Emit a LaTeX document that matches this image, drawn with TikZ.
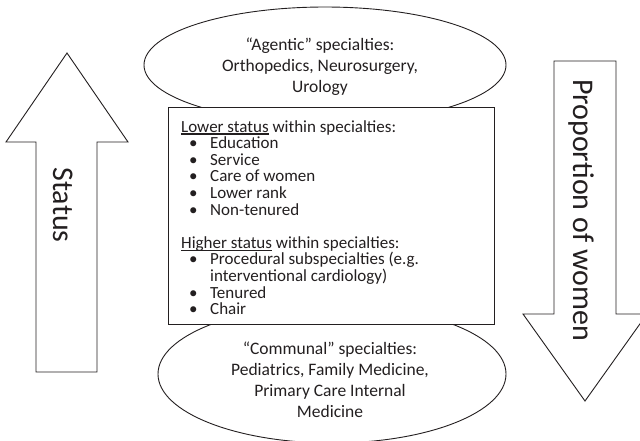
\documentclass[tikz,border=0pt]{standalone}
\usepackage{fontspec}
\setmainfont{Carlito}
\usetikzlibrary{shapes.geometric}
\definecolor{ink}{RGB}{35,31,32}
\newcommand{\spitem}[1]{\hspace*{8pt}\makebox[21pt][l]{•}#1}
% underline with a firmer rule than \underline gives
\newcommand{\heavyul}[1]{\setbox0\hbox{#1}\rlap{\rule[-2.6pt]{\wd0}{1.3pt}}\box0\relax}
\begin{document}
\begin{tikzpicture}[x=1pt,y=-1pt,
  outline/.style={draw=ink, line width=0.9pt},
  bigarrow/.style={outline, fill=white, line join=miter},
  oval/.style={outline, ellipse, inner sep=0pt},
  ovaltext/.style={align=center, font=\fontsize{17.5}{21}\selectfont, text=ink, inner sep=0pt},
  listtext/.style={align=left, font=\fontsize{17}{16.6}\selectfont, text=ink, inner sep=0pt},
  arrowlabel/.style={rotate=-90, font=\fontsize{30}{36}\selectfont, text=ink, inner sep=0pt}]
\clip (0,0) rectangle (640,440);

% status arrow pointing up
\draw[bigarrow] (36,372) -- (36,142) -- (6,142) -- (67,53) -- (128,142)
  -- (97,142) -- (97,372) -- cycle;
\node[arrowlabel] (status) at (63,205) {Status};

% proportion arrow pointing down
\draw[bigarrow] (554,61) -- (616,61) -- (616,314) -- (647,314) -- (585,401)
  -- (523,314) -- (554,314) -- cycle;
\node[arrowlabel] (women) at (581,210) {Proportion of women};

% specialty groups
\node[oval, minimum width=362pt, minimum height=116pt] (agentic) at (325,65) {};
\node[oval, minimum width=348pt, minimum height=138pt] (communal) at (332,374) {};
\node[ovaltext] (agentic text) at (320,67) {“Agentic” specialties:\\Orthopedics, Neurosurgery,\\Urology};
\node[ovaltext] (communal text) at (330,380) {“Communal” specialties:\\Pediatrics, Family Medicine,\\Primary Care Internal\\Medicine};

% status within specialties; the list is placed by the baseline of its last line
\node[outline, fill=white, minimum width=326pt, minimum height=217pt,
  inner sep=0pt, anchor=north west] (within) at (168,107) {};
\node[listtext, anchor=base west] (within list) at (181,314.6) {%
\heavyul{Lower status} within specialties:\\
\spitem{Education}\\
\spitem{Service}\\
\spitem{Care of women}\\
\spitem{Lower rank}\\
\spitem{Non-tenured}\\[16.6pt]
\heavyul{Higher status} within specialties:\\
\spitem{Procedural subspecialties (e.g.}\\
\hspace*{29pt}interventional cardiology)\\
\spitem{Tenured}\\
\spitem{Chair}};
\end{tikzpicture}
\end{document}
